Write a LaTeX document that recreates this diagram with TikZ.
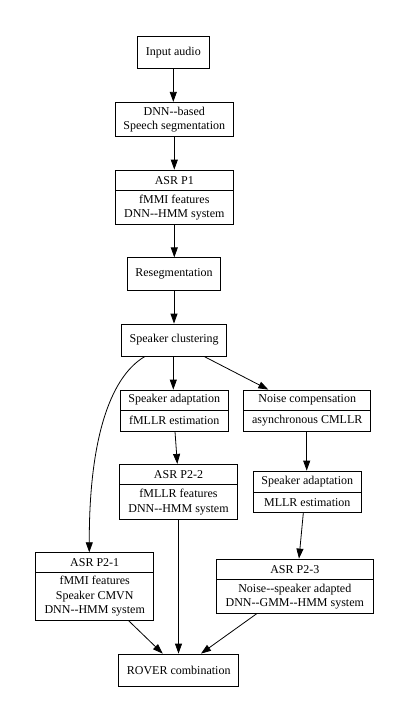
\documentclass[tikz,border=0pt]{standalone}
\usepackage{fontspec}
\setmainfont{Liberation Serif}
\usetikzlibrary{arrows.meta}
\tikzset{
  box/.style={draw, line width=0.8pt, inner sep=0pt, align=center,
    font=\fontsize{12}{14.4}\selectfont},
  conn/.style={line width=0.8pt, -{Triangle[length=10pt,width=7pt]}}
}
\begin{document}
\begin{tikzpicture}[x=1pt,y=-1pt]
\useasboundingbox (0,0) rectangle (409,723);
% simple boxes
\node[box, minimum width=72pt, minimum height=32.3pt] (in) at (173.3,52.2) {Input audio};
\node[box, minimum width=118pt, minimum height=34.4pt] (seg) at (174.3,119.5) {DNN-{}-based\\Speech segmentation};
\node[box, minimum width=118pt, minimum height=20.7pt] (p1t) at (174.3,180.35) {ASR P1};
\node[box, minimum width=118pt, minimum height=33.3pt] (p1b) at (174.3,207.35) {fMMI features\\DNN-{}-HMM system};
\node[box, minimum width=93.4pt, minimum height=32.3pt] (reseg) at (174,273.9) {Resegmentation};
\node[box, minimum width=105pt, minimum height=32pt] (clus) at (174.2,340) {Speaker clustering};
\node[box, minimum width=107.7pt, minimum height=20pt] (sa1t) at (174.2,400) {Speaker adaptation};
\node[box, minimum width=107.7pt, minimum height=21pt] (sa1b) at (174.2,420.5) {fMLLR estimation};
\node[box, minimum width=127pt, minimum height=20pt] (nct) at (307.2,400) {Noise compensation};
\node[box, minimum width=127pt, minimum height=21pt] (ncb) at (307.2,420.5) {asynchronous CMLLR};
\node[box, minimum width=118.4pt, minimum height=20.4pt] (p22t) at (178.5,474.5) {ASR P2-2};
\node[box, minimum width=118.4pt, minimum height=34.6pt] (p22b) at (178.5,502) {fMLLR features\\DNN-{}-HMM system};
\node[box, minimum width=107.3pt, minimum height=21.7pt] (sa2t) at (307.3,481.85) {Speaker adaptation};
\node[box, minimum width=107.3pt, minimum height=20pt] (sa2b) at (307.3,502.7) {MLLR estimation};
\node[box, minimum width=118pt, minimum height=20pt] (p21t) at (94.7,562.7) {ASR P2-1};
\node[box, minimum width=118pt, minimum height=47.3pt] (p21b) at (94.7,596.35) {fMMI features\\Speaker CMVN\\DNN-{}-HMM system};
\node[box, minimum width=157pt, minimum height=20.7pt] (p23t) at (294.8,569.35) {ASR P2-3};
\node[box, minimum width=157pt, minimum height=33.6pt] (p23b) at (294.8,596.5) {Noise-{}-speaker adapted\\DNN-{}-GMM-{}-HMM system};
\node[box, minimum width=120pt, minimum height=32pt] (rover) at (178.7,670) {ROVER combination};
% connectors
\draw[conn] (in.south) -- (in.south |- seg.north);
\draw[conn] (seg.south) -- (seg.south |- p1t.north);
\draw[conn] (p1b.south) -- (p1b.south |- reseg.north);
\draw[conn] (reseg.south) -- (reseg.south |- clus.north);
\draw[conn] ([xshift=-0.9pt]clus.south) -- ([xshift=-0.9pt]clus.south |- sa1t.north);
\draw[conn] ([xshift=29.8pt]clus.south) -- ([xshift=-38.9pt]nct.north);
\draw[conn] ([xshift=0.8pt]sa1b.south) -- ([xshift=-1.2pt]p22t.north);
\draw[conn] ([xshift=-0.5pt]ncb.south) -- ([xshift=-0.6pt]sa2t.north);
\draw[conn] ([xshift=-4pt]sa2b.south) -- ([xshift=4.2pt]p23t.north);
\draw[conn] ([xshift=-29.2pt]clus.south) .. controls (108,378) and (89,445) .. ([xshift=-5.4pt]p21t.north);
\draw[conn] ([xshift=33.6pt]p21b.south) -- ([xshift=-16pt]rover.north);
\draw[conn] (p22b.south) -- (p22b.south |- rover.north);
\draw[conn] ([xshift=-38.1pt]p23b.south) -- ([xshift=22.3pt]rover.north);
\end{tikzpicture}
\end{document}
